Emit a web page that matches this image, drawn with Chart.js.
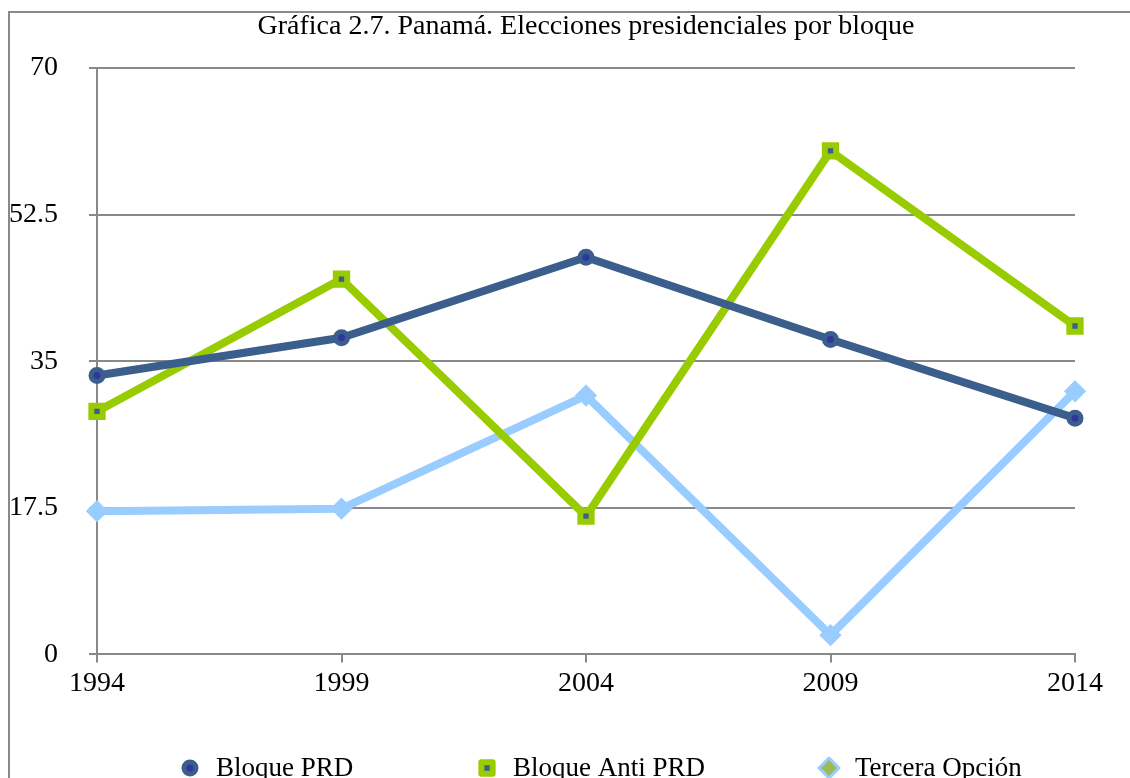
<!DOCTYPE html>
<html>
<head>
<meta charset="utf-8">
<script src="https://cdn.jsdelivr.net/npm/chart.js@4/dist/chart.umd.min.js"></script>
<style>
  html, body { margin: 0; padding: 0; background: #fff; }
  #wrap { position: relative; width: 1130px; height: 778px; overflow: hidden; }
</style>
</head>
<body>
<div id="wrap"><canvas id="chart" width="1130" height="778"></canvas></div>
<script>
const title = 'Gráfica 2.7. Panamá. Elecciones presidenciales por bloque'
const years = ['1994', '1999', '2004', '2009', '2014']
const bloquePRD = [33.3, 37.8, 47.4, 37.6, 28.2]
const bloqueAntiPRD = [29.0, 44.8, 16.5, 60.1, 39.2]
const terceraOpcion = [17.1, 17.4, 30.9, 2.3, 31.4]
const yTicks = [0, 17.5, 35, 52.5, 70]

const FONT = '"Liberation Serif", "Times New Roman", serif'
const GRID = '#898989'

// legend markers (what the original legend shows)
const legendItems = [
  { x: 190, style: 'circle', radius: 6, fill: '#31379a', stroke: '#3b5e8c', bw: 5 },
  { x: 487, style: 'rect', radius: 8, fill: '#3b5e8c', stroke: '#99cc00', bw: 6 },
  { x: 829, style: 'rectRot', radius: 10, fill: '#9bbb59', stroke: '#99ccff', bw: 3 }
]

const framePlugin = {
  id: 'frame',
  beforeDraw(chart) {
    const ctx = chart.ctx
    ctx.save()
    ctx.strokeStyle = GRID
    ctx.lineWidth = 2
    ctx.strokeRect(9, 12, 1200, 900)
    ctx.restore()
  },
  afterDraw(chart) {
    const ctx = chart.ctx
    ctx.save()
    ctx.fillStyle = '#000'
    ctx.font = '28px ' + FONT
    ctx.textAlign = 'center'
    ctx.textBaseline = 'middle'
    ctx.fillText(title, 586, 27)

    ctx.font = '27px ' + FONT
    ctx.textAlign = 'left'
    chart.data.datasets.forEach((ds, i) => {
      const it = legendItems[i]
      ctx.fillStyle = it.fill
      ctx.strokeStyle = it.stroke
      ctx.lineWidth = it.bw
      ctx.lineJoin = 'round'
      Chart.helpers.drawPoint(ctx, { pointStyle: it.style, radius: it.radius, borderWidth: it.bw, rotation: 0 }, it.x, 768)
      ctx.fillStyle = '#000'
      ctx.fillText(ds.label, it.x + 26, 769)
    })
    ctx.restore()
  }
}

const config = {
  type: 'line',
  data: {
    labels: years,
    datasets: [
      {
        label: 'Bloque PRD',
        data: bloquePRD,
        borderColor: '#3b5e8c',
        borderWidth: 8,
        pointStyle: 'circle',
        pointRadius: 6,
        pointBorderWidth: 5,
        pointBackgroundColor: '#31379a',
        pointBorderColor: '#3b5e8c'
      },
      {
        label: 'Bloque Anti PRD',
        data: bloqueAntiPRD,
        borderColor: '#99cc00',
        borderWidth: 8,
        pointStyle: 'rect',
        pointRadius: 8,
        pointBorderWidth: 6,
        pointBackgroundColor: '#3b5e8c',
        pointBorderColor: '#99cc00'
      },
      {
        label: 'Tercera Opción',
        data: terceraOpcion,
        borderColor: '#99ccff',
        borderWidth: 8,
        pointStyle: 'rectRot',
        pointRadius: 9,
        pointBorderWidth: 3,
        pointBackgroundColor: '#99ccff',
        pointBorderColor: '#99ccff'
      }
    ]
  },
  options: {
    responsive: false,
    animation: false,
    layout: { padding: { top: 68, left: 0, right: 55, bottom: 74 } },
    elements: {
      line: { tension: 0, borderJoinStyle: 'round', borderCapStyle: 'round' }
    },
    scales: {
      x: {
        offset: false,
        grid: { drawOnChartArea: false, color: GRID, lineWidth: 2, tickLength: 8 },
        border: { color: GRID, width: 2 },
        ticks: { color: '#000', font: { family: FONT, size: 28 }, padding: 4, maxRotation: 0 }
      },
      y: {
        min: 0,
        max: 70,
        afterFit(scale) { scale.width = 97 },
        afterBuildTicks(scale) { scale.ticks = yTicks.map(v => ({ value: v })) },
        grid: { color: GRID, lineWidth: 2, tickLength: 8 },
        border: { color: GRID, width: 2 },
        ticks: { color: '#000', font: { family: FONT, size: 28 }, padding: 31 }
      }
    },
    plugins: {
      legend: { display: false },
      title: { display: false },
      tooltip: { enabled: false }
    }
  },
  plugins: [framePlugin]
}

new Chart(document.getElementById('chart'), config)
</script>
</body>
</html>
